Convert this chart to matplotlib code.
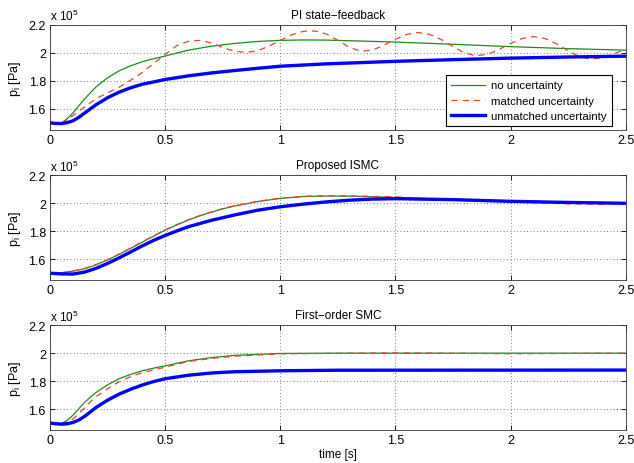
import matplotlib
matplotlib.use('Agg')
import matplotlib.pyplot as plt

plt.rcParams['font.family'] = ['Liberation Sans', 'DejaVu Sans']

# pressure p_i in units of 1e5 Pa

# PI state-feedback
t_pi_g = [0, 0.025, 0.05, 0.075, 0.1, 0.125, 0.15, 0.2, 0.25, 0.3, 0.35, 0.4, 0.45, 0.5, 0.6,
          0.7, 0.8, 0.9, 1.0, 1.1, 1.2, 1.5, 1.75, 2.0, 2.25, 2.5]
pi_nominal = [1.50, 1.497, 1.50, 1.53, 1.572, 1.622, 1.672, 1.758, 1.823, 1.872, 1.908, 1.937,
              1.959, 1.978, 2.02, 2.048, 2.068, 2.082, 2.09, 2.093, 2.092, 2.078, 2.062, 2.045,
              2.031, 2.02]
t_pi_r = [0, 0.025, 0.05, 0.075, 0.1, 0.15, 0.2, 0.25, 0.3, 0.35, 0.4, 0.45, 0.5, 0.55, 0.6,
          0.65, 0.7, 0.75, 0.8, 0.85, 0.9, 0.95, 1.0, 1.05, 1.1, 1.15, 1.2, 1.25, 1.3, 1.35,
          1.4, 1.45, 1.5, 1.55, 1.6, 1.65, 1.7, 1.75, 1.8, 1.85, 1.9, 1.95, 2.0, 2.05, 2.1,
          2.15, 2.2, 2.25, 2.3, 2.35, 2.4, 2.45, 2.5]
pi_matched = [1.50, 1.497, 1.50, 1.522, 1.553, 1.615, 1.673, 1.715, 1.755, 1.805, 1.86, 1.925,
              1.99, 2.052, 2.083, 2.09, 2.072, 2.038, 2.013, 2.004, 2.015, 2.048, 2.09, 2.13,
              2.155, 2.157, 2.135, 2.09, 2.04, 2.012, 2.02, 2.055, 2.098, 2.133, 2.146, 2.132,
              2.095, 2.045, 2.0, 1.98, 1.99, 2.025, 2.068, 2.103, 2.117, 2.103, 2.065, 2.015,
              1.972, 1.956, 1.966, 1.995, 2.028]
t_pi_b = [0, 0.025, 0.05, 0.075, 0.1, 0.125, 0.15, 0.2, 0.25, 0.3, 0.35, 0.4, 0.5, 0.6, 0.7,
          0.8, 0.9, 1.0, 1.2, 1.5, 1.75, 2.0, 2.25, 2.5]
pi_unmatched = [1.50, 1.496, 1.495, 1.502, 1.515, 1.54, 1.57, 1.63, 1.68, 1.72, 1.751, 1.776,
                1.81, 1.836, 1.857, 1.874, 1.89, 1.905, 1.922, 1.94, 1.952, 1.963, 1.971, 1.977]

# Proposed ISMC
t_is_g = [0, 0.05, 0.1, 0.15, 0.2, 0.25, 0.3, 0.35, 0.4, 0.45, 0.5, 0.55, 0.6, 0.65, 0.7, 0.75,
          0.8, 0.9, 1.0, 1.1, 1.2, 1.3, 1.5, 1.75, 2.0, 2.25, 2.5]
is_nominal = [1.50, 1.503, 1.515, 1.532, 1.56, 1.595, 1.635, 1.678, 1.722, 1.765, 1.808, 1.845,
              1.88, 1.91, 1.936, 1.96, 1.98, 2.012, 2.035, 2.048, 2.052, 2.051, 2.042, 2.026,
              2.014, 2.006, 2.0]
t_is_r = [0, 0.05, 0.1, 0.15, 0.2, 0.25, 0.3, 0.35, 0.4, 0.45, 0.5, 0.55, 0.6, 0.65, 0.7, 0.75,
          0.8, 0.9, 1.0, 1.1, 1.2, 1.3, 1.5, 1.75, 2.0, 2.25, 2.4, 2.5]
is_matched = [1.50, 1.503, 1.516, 1.534, 1.562, 1.597, 1.637, 1.68, 1.724, 1.767, 1.81, 1.847,
              1.882, 1.912, 1.938, 1.962, 1.982, 2.014, 2.037, 2.05, 2.054, 2.053, 2.046, 2.022,
              2.01, 1.996, 1.994, 1.998]
t_is_b = [0, 0.05, 0.1, 0.15, 0.2, 0.25, 0.3, 0.35, 0.4, 0.45, 0.5, 0.55, 0.6, 0.7, 0.8, 0.9,
          1.0, 1.1, 1.2, 1.3, 1.4, 1.5, 1.75, 2.0, 2.25, 2.5]
is_unmatched = [1.50, 1.495, 1.494, 1.508, 1.535, 1.57, 1.61, 1.652, 1.695, 1.735, 1.77, 1.802,
                1.832, 1.878, 1.916, 1.95, 1.975, 1.994, 2.01, 2.022, 2.03, 2.033, 2.026, 2.014,
                2.006, 2.0]

# First-order SMC
t_sm_g = [0, 0.025, 0.05, 0.075, 0.1, 0.125, 0.15, 0.175, 0.2, 0.25, 0.3, 0.35, 0.4, 0.45, 0.5,
          0.6, 0.7, 0.8, 1.0, 1.25, 1.5, 2.0, 2.5]
sm_nominal = [1.50, 1.499, 1.497, 1.52, 1.557, 1.603, 1.648, 1.686, 1.719, 1.774, 1.818, 1.848,
              1.874, 1.893, 1.909, 1.945, 1.968, 1.984, 1.998, 2.0, 2.0, 2.0, 2.0]
t_sm_r = [0, 0.05, 0.075, 0.1, 0.125, 0.15, 0.175, 0.2, 0.25, 0.3, 0.35, 0.4, 0.5, 0.6, 0.7,
          0.8, 1.0, 1.2, 1.5, 2.0, 2.5]
sm_matched = [1.50, 1.497, 1.508, 1.53, 1.568, 1.61, 1.652, 1.69, 1.745, 1.795, 1.832, 1.86,
              1.90, 1.94, 1.962, 1.978, 1.995, 1.998, 2.002, 1.996, 2.0]
t_sm_b = [0, 0.025, 0.05, 0.075, 0.1, 0.125, 0.15, 0.175, 0.2, 0.25, 0.3, 0.35, 0.4, 0.45, 0.5,
          0.6, 0.7, 0.8, 1.0, 1.25, 2.5]
sm_unmatched = [1.50, 1.495, 1.492, 1.495, 1.505, 1.522, 1.548, 1.58, 1.612, 1.664, 1.707, 1.742,
                1.772, 1.797, 1.817, 1.842, 1.858, 1.867, 1.874, 1.878, 1.879]

titles = ['PI state\u2212feedback', 'Proposed ISMC', 'First\u2212order SMC']
labels = ['no uncertainty', 'matched uncertainty', 'unmatched uncertainty']
xticks = [0, 0.5, 1, 1.5, 2, 2.5]
xticklabels = ['0', '0.5', '1', '1.5', '2', '2.5']
yticks = [1.6, 1.8, 2.0, 2.2]
yticklabels = ['1.6', '1.8', '2', '2.2']

panels = [
    (t_pi_g, pi_nominal, t_pi_r, pi_matched, t_pi_b, pi_unmatched),
    (t_is_g, is_nominal, t_is_r, is_matched, t_is_b, is_unmatched),
    (t_sm_g, sm_nominal, t_sm_r, sm_matched, t_sm_b, sm_unmatched),
]

fig = plt.figure(figsize=(6.34, 4.64), dpi=100)
bottoms = [0.718, 0.394, 0.071]
for i, (tg, g, tr, r, tb, b) in enumerate(panels):
    ax = fig.add_axes([0.079, bottoms[i], 0.908, 0.226])
    ax.plot(tg, g, color='#1a8c1a', lw=0.9, label=labels[0])
    ax.plot(tr, r, color='#e8452c', lw=0.9, ls=(0, (5, 4)), label=labels[1])
    ax.plot(tb, b, color='#0000ff', lw=2.4, label=labels[2])
    ax.set_xlim(0, 2.5)
    ax.set_ylim(1.45, 2.2)
    ax.set_xticks(xticks)
    ax.set_xticklabels(xticklabels)
    ax.set_yticks(yticks)
    ax.set_yticklabels(yticklabels)
    ax.tick_params(direction='in', top=True, right=True, labelsize=9, length=3.5, width=0.6,
                   pad=3)
    ax.grid(True, color='0.35', ls=(0, (1, 3)), lw=0.6)
    for s in ax.spines.values():
        s.set_linewidth(0.6)
        s.set_color('0.2')
    ax.set_title(titles[i], fontsize=8.5, pad=5)
    ax.set_ylabel('p$_\\mathregular{i}$ [Pa]', fontsize=9, labelpad=4)
    ax.text(0.0, 1.015, 'x 10$^\\mathregular{5}$', transform=ax.transAxes, fontsize=8.5,
            ha='left', va='bottom')
    if i == 0:
        leg = ax.legend(loc='lower right', bbox_to_anchor=(0.976, 0.038), fontsize=8.2,
                        fancybox=False, framealpha=1, edgecolor='black', borderaxespad=0,
                        handlelength=3.0, handletextpad=0.5, labelspacing=0.45, borderpad=0.45)
        leg.get_frame().set_linewidth(0.8)
    if i == 2:
        ax.set_xlabel('time [s]', fontsize=8.5, labelpad=1)

fig.savefig('out.png', dpi=100)
